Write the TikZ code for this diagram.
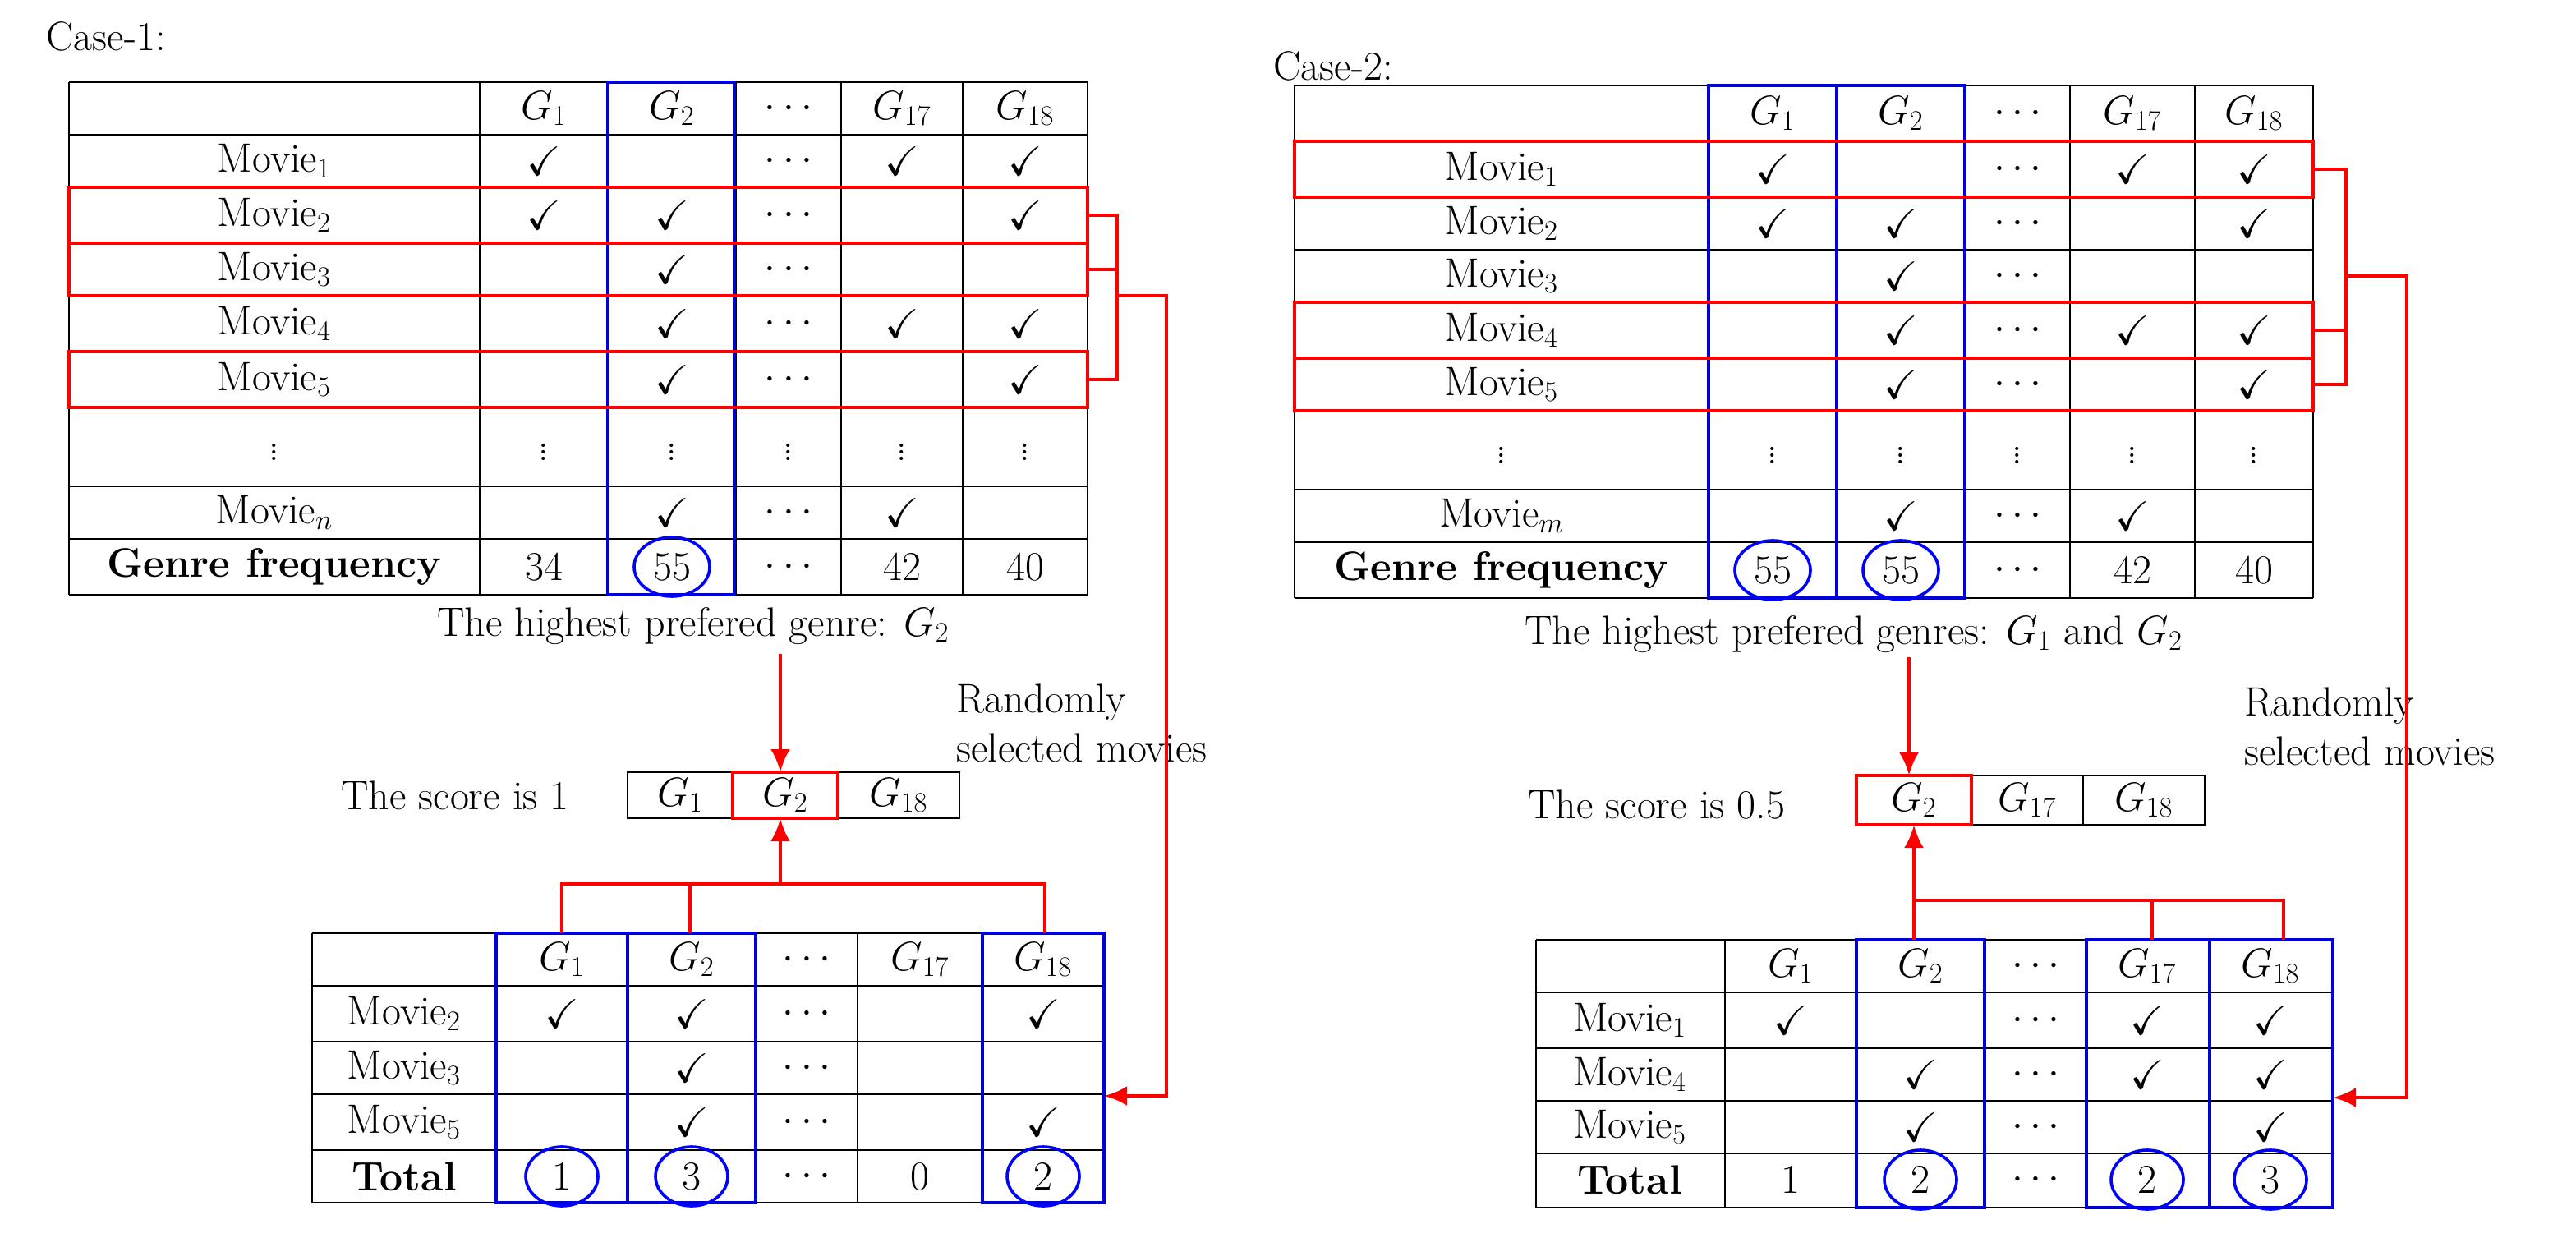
\documentclass[tikz,border=0pt]{standalone}
\usepackage{amssymb}
\usetikzlibrary{arrows.meta}
\newcommand\tgrid[6]{\foreach \x in {#1}\draw[grid](\x,#5)--(\x,#6); \foreach \y in {#2}\draw[grid](#3,\y)--(#4,\y);}
\newcommand\trow[3]{\foreach \t [count=\i from 0] in {#3}{\pgfmathsetmacro\xx{#2[\i]}\node[cell] (n\i) at (\xx,#1) {\t};}}
\begin{document}
\begin{tikzpicture}[x=1pt,y=-1pt,
 grid/.style={line width=1pt},
 cell/.style={inner sep=0pt,font=\fontsize{25}{30}\selectfont},
 redb/.style={draw=red,line width=2.4pt},
 blueb/.style={draw=blue!85!black,line width=2.4pt},
 circ/.style={draw=blue,line width=1.8pt},
 rl/.style={red,line width=2.4pt},
 arr/.style={red,line width=2.4pt,-{Latex[length=14pt,width=12pt]}},
 lbl/.style={inner sep=0pt,font=\fontsize{25}{30}\selectfont}]
\useasboundingbox (0,0) rectangle (1568,753.5);
\def\cxA{{167,331,409,480,549,624}}
\def\cxB{{914,1079,1157,1228,1298,1372}}
\def\cxC{{246,342,421,491,560,635}}
\def\cxD{{992,1090,1169,1239,1307,1382}}
\node[lbl,anchor=west] (c1) at (28,22) {Case-1:};
\node[lbl,anchor=west] (c2) at (775,40) {Case-2:};
% ---------- Table 1
\tgrid{42,292,370,448,512,586,662}{50,82,114,148,180,214,248,296,328,362}{42}{662}{50}{362}
\trow{66}{\cxA}{{},$G_1$,$G_2$,$\cdots$,$G_{17}$,$G_{18}$}
\trow{98}{\cxA}{Movie$_1$,$\checkmark$,{},$\cdots$,$\checkmark$,$\checkmark$}
\trow{131}{\cxA}{Movie$_2$,$\checkmark$,$\checkmark$,$\cdots$,{},$\checkmark$}
\trow{164}{\cxA}{Movie$_3$,{},$\checkmark$,$\cdots$,{},{}}
\trow{197}{\cxA}{Movie$_4$,{},$\checkmark$,$\cdots$,$\checkmark$,$\checkmark$}
\trow{231}{\cxA}{Movie$_5$,{},$\checkmark$,$\cdots$,{},$\checkmark$}
\trow{272}{\cxA}{$\vdots$,$\vdots$,$\vdots$,$\vdots$,$\vdots$,$\vdots$}
\trow{312}{\cxA}{Movie$_n$,{},$\checkmark$,$\cdots$,$\checkmark$,{}}
\trow{345}{\cxA}{\textbf{Genre frequency},34,55,$\cdots$,42,40}
\draw[blueb] (370,50) rectangle (447,362);
\draw[circ] (409,345) ellipse [x radius=23pt,y radius=18pt];
\draw[redb] (42,114) rectangle (662,148);
\draw[redb] (42,148) rectangle (662,180);
\draw[redb] (42,214) rectangle (662,248);
\draw[rl] (662,131)--(680,131)--(680,231)--(662,231) (662,164)--(680,164);
\node[lbl] (h1) at (422,381) {The highest prefered genre: $G_2$};
\node[lbl,anchor=west,align=left] (r1) at (582,440) {Randomly\\selected movies};
% small table 1
\node[lbl] (s1) at (277,484) {The score is 1};
\draw[grid] (382,470) rectangle (584,498) (446,470)--(446,498) (510,470)--(510,498);
\node[cell] (g1) at (414,484) {$G_1$};
\node[cell] (g2) at (478,484) {$G_2$};
\node[cell] (g3) at (547,484) {$G_{18}$};
\draw[redb] (446,470) rectangle (510,498);
\coordinate (a1) at (475,398); \coordinate (a2) at (475,470);
\draw[arr] (a1)--(a2);
% ---------- Table 3
\tgrid{190,302,382,460,522,598,672}{568,600,634,666,700,732}{190}{672}{568}{732}
\trow{584}{\cxC}{{},$G_1$,$G_2$,$\cdots$,$G_{17}$,$G_{18}$}
\trow{617}{\cxC}{Movie$_2$,$\checkmark$,$\checkmark$,$\cdots$,{},$\checkmark$}
\trow{650}{\cxC}{Movie$_3$,{},$\checkmark$,$\cdots$,{},{}}
\trow{683}{\cxC}{Movie$_5$,{},$\checkmark$,$\cdots$,{},$\checkmark$}
\trow{716}{\cxC}{\textbf{Total},1,3,$\cdots$,0,2}
\draw[blueb] (302,568) rectangle (382,732) (382,568) rectangle (460,732) (598,568) rectangle (672,732);
\draw[circ] (342,716) ellipse [x radius=22pt,y radius=18pt] (421,716) ellipse [x radius=22pt,y radius=18pt] (635,716) ellipse [x radius=22pt,y radius=18pt];
\draw[rl] (342,568)--(342,538)--(636,538)--(636,568) (420,568)--(420,538);
\coordinate (b1) at (475,538); \coordinate (b2) at (475,498);
\draw[arr] (b1)--(b2);
\coordinate (k1) at (680,180); \coordinate (k2) at (672,667);
\draw[arr] (k1)--(710,180)--(710,667)--(k2);
% ---------- Table 2
\tgrid{788,1040,1118,1196,1260,1336,1408}{52,86,120,152,184,218,250,298,330,364}{788}{1408}{52}{364}
\trow{69}{\cxB}{{},$G_1$,$G_2$,$\cdots$,$G_{17}$,$G_{18}$}
\trow{103}{\cxB}{Movie$_1$,$\checkmark$,{},$\cdots$,$\checkmark$,$\checkmark$}
\trow{136}{\cxB}{Movie$_2$,$\checkmark$,$\checkmark$,$\cdots$,{},$\checkmark$}
\trow{168}{\cxB}{Movie$_3$,{},$\checkmark$,$\cdots$,{},{}}
\trow{201}{\cxB}{Movie$_4$,{},$\checkmark$,$\cdots$,$\checkmark$,$\checkmark$}
\trow{234}{\cxB}{Movie$_5$,{},$\checkmark$,$\cdots$,{},$\checkmark$}
\trow{274}{\cxB}{$\vdots$,$\vdots$,$\vdots$,$\vdots$,$\vdots$,$\vdots$}
\trow{314}{\cxB}{Movie$_m$,{},$\checkmark$,$\cdots$,$\checkmark$,{}}
\trow{347}{\cxB}{\textbf{Genre frequency},55,55,$\cdots$,42,40}
\draw[blueb] (1040,52) rectangle (1118,364) (1118,52) rectangle (1196,364);
\draw[circ] (1079,347) ellipse [x radius=23pt,y radius=18pt] (1157,347) ellipse [x radius=23pt,y radius=18pt];
\draw[redb] (788,86) rectangle (1408,120);
\draw[redb] (788,184) rectangle (1408,218);
\draw[redb] (788,218) rectangle (1408,250);
\draw[rl] (1408,103)--(1428,103)--(1428,234)--(1408,234) (1408,201)--(1428,201);
\node[lbl,anchor=west] (h2) at (928,386) {The highest prefered genres: $G_1$ and $G_2$};
\node[lbl,anchor=west,align=left] (r2) at (1366,442) {Randomly\\selected movies};
% small table 2
\node[lbl,anchor=west] (s2) at (930,490) {The score is 0.5};
\draw[grid] (1130,472) rectangle (1342,502) (1200,472)--(1200,502) (1268,472)--(1268,502);
\node[cell] (g4) at (1165,487) {$G_2$};
\node[cell] (g5) at (1234,487) {$G_{17}$};
\node[cell] (g6) at (1305,487) {$G_{18}$};
\draw[redb] (1130,472) rectangle (1200,502);
\coordinate (a3) at (1162,400); \coordinate (a4) at (1162,472);
\draw[arr] (a3)--(a4);
% ---------- Table 4
\tgrid{935,1050,1130,1208,1270,1345,1420}{572,604,638,670,702,735}{935}{1420}{572}{735}
\trow{588}{\cxD}{{},$G_1$,$G_2$,$\cdots$,$G_{17}$,$G_{18}$}
\trow{621}{\cxD}{Movie$_1$,$\checkmark$,{},$\cdots$,$\checkmark$,$\checkmark$}
\trow{654}{\cxD}{Movie$_4$,{},$\checkmark$,$\cdots$,$\checkmark$,$\checkmark$}
\trow{686}{\cxD}{Movie$_5$,{},$\checkmark$,$\cdots$,{},$\checkmark$}
\trow{718}{\cxD}{\textbf{Total},1,2,$\cdots$,2,3}
\draw[blueb] (1130,572) rectangle (1208,735) (1270,572) rectangle (1345,735) (1345,572) rectangle (1420,735);
\draw[circ] (1169,718) ellipse [x radius=22pt,y radius=18pt] (1307,718) ellipse [x radius=22pt,y radius=18pt] (1382,718) ellipse [x radius=22pt,y radius=18pt];
\draw[rl] (1165,548)--(1390,548)--(1390,572) (1310,548)--(1310,572);
\coordinate (b3) at (1165,572); \coordinate (b4) at (1165,502);
\draw[arr] (b3)--(b4);
\coordinate (k3) at (1428,168); \coordinate (k4) at (1420,668);
\draw[arr] (k3)--(1465,168)--(1465,668)--(k4);
\end{tikzpicture}
\end{document}
